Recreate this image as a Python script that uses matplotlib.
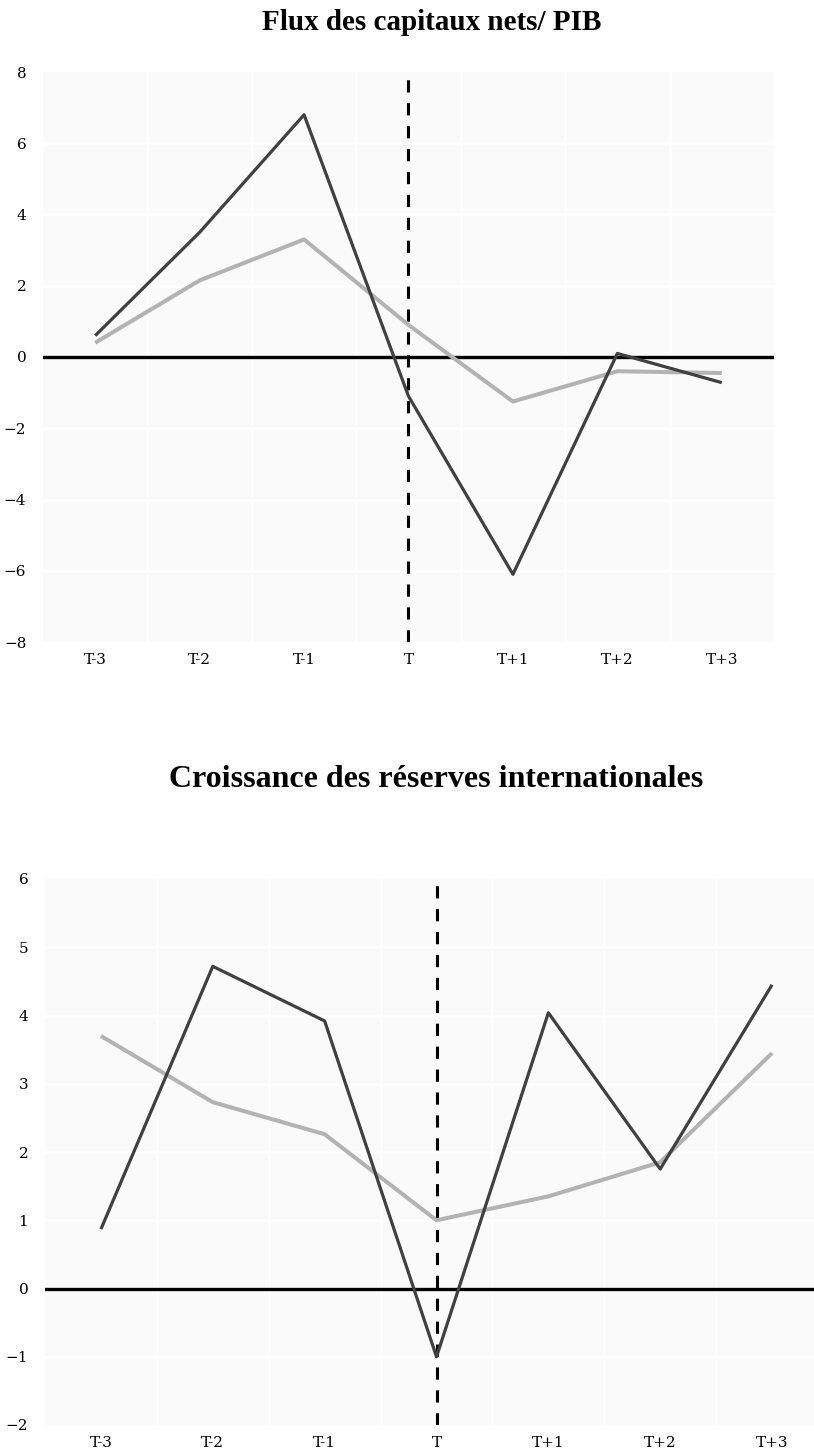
import numpy as np
import matplotlib.pyplot as plt

periods = ["T-3", "T-2", "T-1", "T", "T+1", "T+2", "T+3"]

# Flux des capitaux nets / PIB
flux_dark = [0.6, 3.5, 6.8, -1.1, -6.1, 0.1, -0.72]
flux_light = [0.4, 2.15, 3.3, 0.9, -1.25, -0.4, -0.45]
flux_ticks = [-8, -6, -4, -2, 0, 2, 4, 6, 8]

# Croissance des reserves internationales
res_dark = [0.87, 4.72, 3.92, -1.0, 4.04, 1.75, 4.45]
res_light = [3.7, 2.73, 2.26, 1.0, 1.35, 1.85, 3.45]
res_ticks = [-2, -1, 0, 1, 2, 3, 4, 5, 6]

DARK = "#404040"
LIGHT = "#b3b3b3"
BG = "#fafafa"

fig = plt.figure(figsize=(8.14, 14.5), dpi=100)


def draw_panel(ax, dark, light, yticks):
    x = np.arange(len(periods))
    ax.set_facecolor(BG)
    for s in ax.spines.values():
        s.set_visible(False)
    ax.set_xlim(-0.5, len(periods) - 0.5)
    ax.set_ylim(yticks[0], yticks[-1])
    # white cell borders
    for b in np.arange(0.5, len(periods) - 0.5):
        ax.axvline(b, color="white", lw=2, zorder=1)
    for t in yticks[1:-1]:
        ax.axhline(t, color="white", lw=2, zorder=1)
    ax.axhline(0, color="black", lw=2.4, zorder=3)
    ax.axvline(3, color="black", lw=2.2, ls=(0, (4, 3.5)), zorder=4)
    ax.plot(x, light, color=LIGHT, lw=2.9, zorder=5, solid_capstyle="butt")
    ax.plot(x, dark, color=DARK, lw=2.3, zorder=6, solid_capstyle="butt")
    ax.set_xticks(x)
    ax.set_xticklabels(periods, family="DejaVu Serif", fontsize=11)
    ax.set_yticks(yticks)
    ax.set_yticklabels([str(t).replace("-", "\u2212") for t in yticks],
                       family="DejaVu Serif", fontsize=11)
    ax.tick_params(length=0)
    ax.tick_params(axis="y", pad=12)
    ax.tick_params(axis="x", pad=8)


ax1 = fig.add_axes([43 / 814, 808 / 1450, 731 / 814, 570 / 1450])
draw_panel(ax1, flux_dark, flux_light, flux_ticks)

ax2 = fig.add_axes([45 / 814, 25 / 1450, 783 / 814, 546 / 1450])
draw_panel(ax2, res_dark, res_light, res_ticks)

fig.text(432 / 814, 1 - 22 / 1450, "Flux des capitaux nets/ PIB",
         family="Liberation Serif", weight="bold", fontsize=21,
         ha="center", va="center")
fig.text(436 / 814, 1 - 779 / 1450, "Croissance des réserves internationales",
         family="Liberation Serif", weight="bold", fontsize=23,
         ha="center", va="center")

plt.savefig("out.png", dpi=100)
